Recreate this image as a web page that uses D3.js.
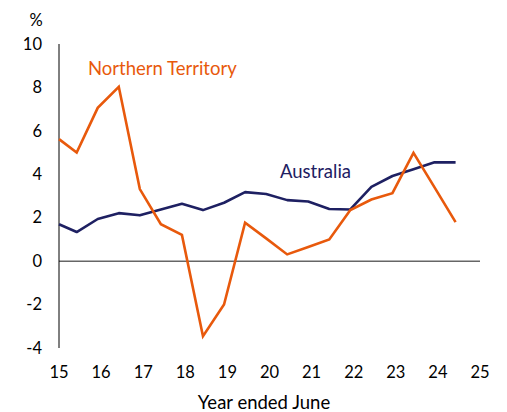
<!DOCTYPE html>
<html><head><meta charset="utf-8">
<script src="https://cdn.jsdelivr.net/npm/d3@7/dist/d3.min.js"></script>
<style>body{margin:0;background:#fff}svg{display:block}text{font-family:Lato,sans-serif}</style>
</head><body><svg id="c" width="507" height="412"></svg>
<script>
const xPos = [15.0,15.42,15.92,16.42,16.92,17.42,17.92,18.42,18.92,19.42,19.92,20.42,20.92,21.42,21.92,22.42,22.92,23.42,23.92,24.42];
const australia = [1.70,1.34,1.94,2.21,2.11,2.38,2.64,2.35,2.69,3.18,3.09,2.81,2.75,2.40,2.38,3.42,3.92,4.23,4.55,4.55];
const northernTerritory = [5.62,5.00,7.06,8.03,3.32,1.70,1.21,-3.46,-2.00,1.77,1.05,0.31,0.65,1.00,2.35,2.84,3.13,4.99,3.40,1.80];
const yTicks = [-4,-2,0,2,4,6,8,10];
const xTicks = [15,16,17,18,19,20,21,22,23,24,25];

const svg = d3.select("#c");
const x = d3.scaleLinear().domain([15,25]).range([59,480]);
const y = d3.scaleLinear().domain([-4,10]).range([348,44]);

// y labels
svg.append("g").selectAll("text").data(yTicks).join("text")
  .attr("x",42).attr("y",d=>y(d)).attr("dy","0.35em").attr("text-anchor","end")
  .attr("font-size",16.5).attr("fill","#000").text(d=>d);
svg.append("text").attr("x",36).attr("y",20).attr("dy","0.35em").attr("text-anchor","middle")
  .attr("font-size",16.5).text("%");
// x labels
svg.append("g").selectAll("text").data(xTicks).join("text")
  .attr("x",d=>x(d)).attr("y",372).attr("dy","0.35em").attr("text-anchor","middle")
  .attr("font-size",16.5).text(d=>d);
svg.append("text").attr("x",264).attr("y",403).attr("dy","0.35em").attr("text-anchor","middle")
  .attr("font-size",18.5).text("Year ended June");

// zero line
svg.append("line").attr("x1",x(15)).attr("x2",x(25)).attr("y1",y(0)).attr("y2",y(0))
  .attr("stroke","#666").attr("stroke-width",1.5);
// left axis
svg.append("line").attr("x1",x(15)).attr("x2",x(15)).attr("y1",y(10)).attr("y2",y(-4))
  .attr("stroke","#000").attr("stroke-width",1);

const line = d3.line().x((d,i)=>x(xPos[i])).y(d=>y(d));
svg.append("path").datum(australia).attr("d",line).attr("fill","none")
  .attr("stroke","#1e2062").attr("stroke-width",2.6).attr("stroke-linejoin","round");
svg.append("path").datum(northernTerritory).attr("d",line).attr("fill","none")
  .attr("stroke","#e8590c").attr("stroke-width",2.6).attr("stroke-linejoin","miter");

svg.append("text").attr("x",88).attr("y",69).attr("dy","0.35em").attr("font-size",18.5)
  .attr("fill","#e8590c").text("Northern Territory");
svg.append("text").attr("x",280).attr("y",172).attr("dy","0.35em").attr("font-size",18.5)
  .attr("fill","#1e2062").text("Australia");
</script></body></html>
